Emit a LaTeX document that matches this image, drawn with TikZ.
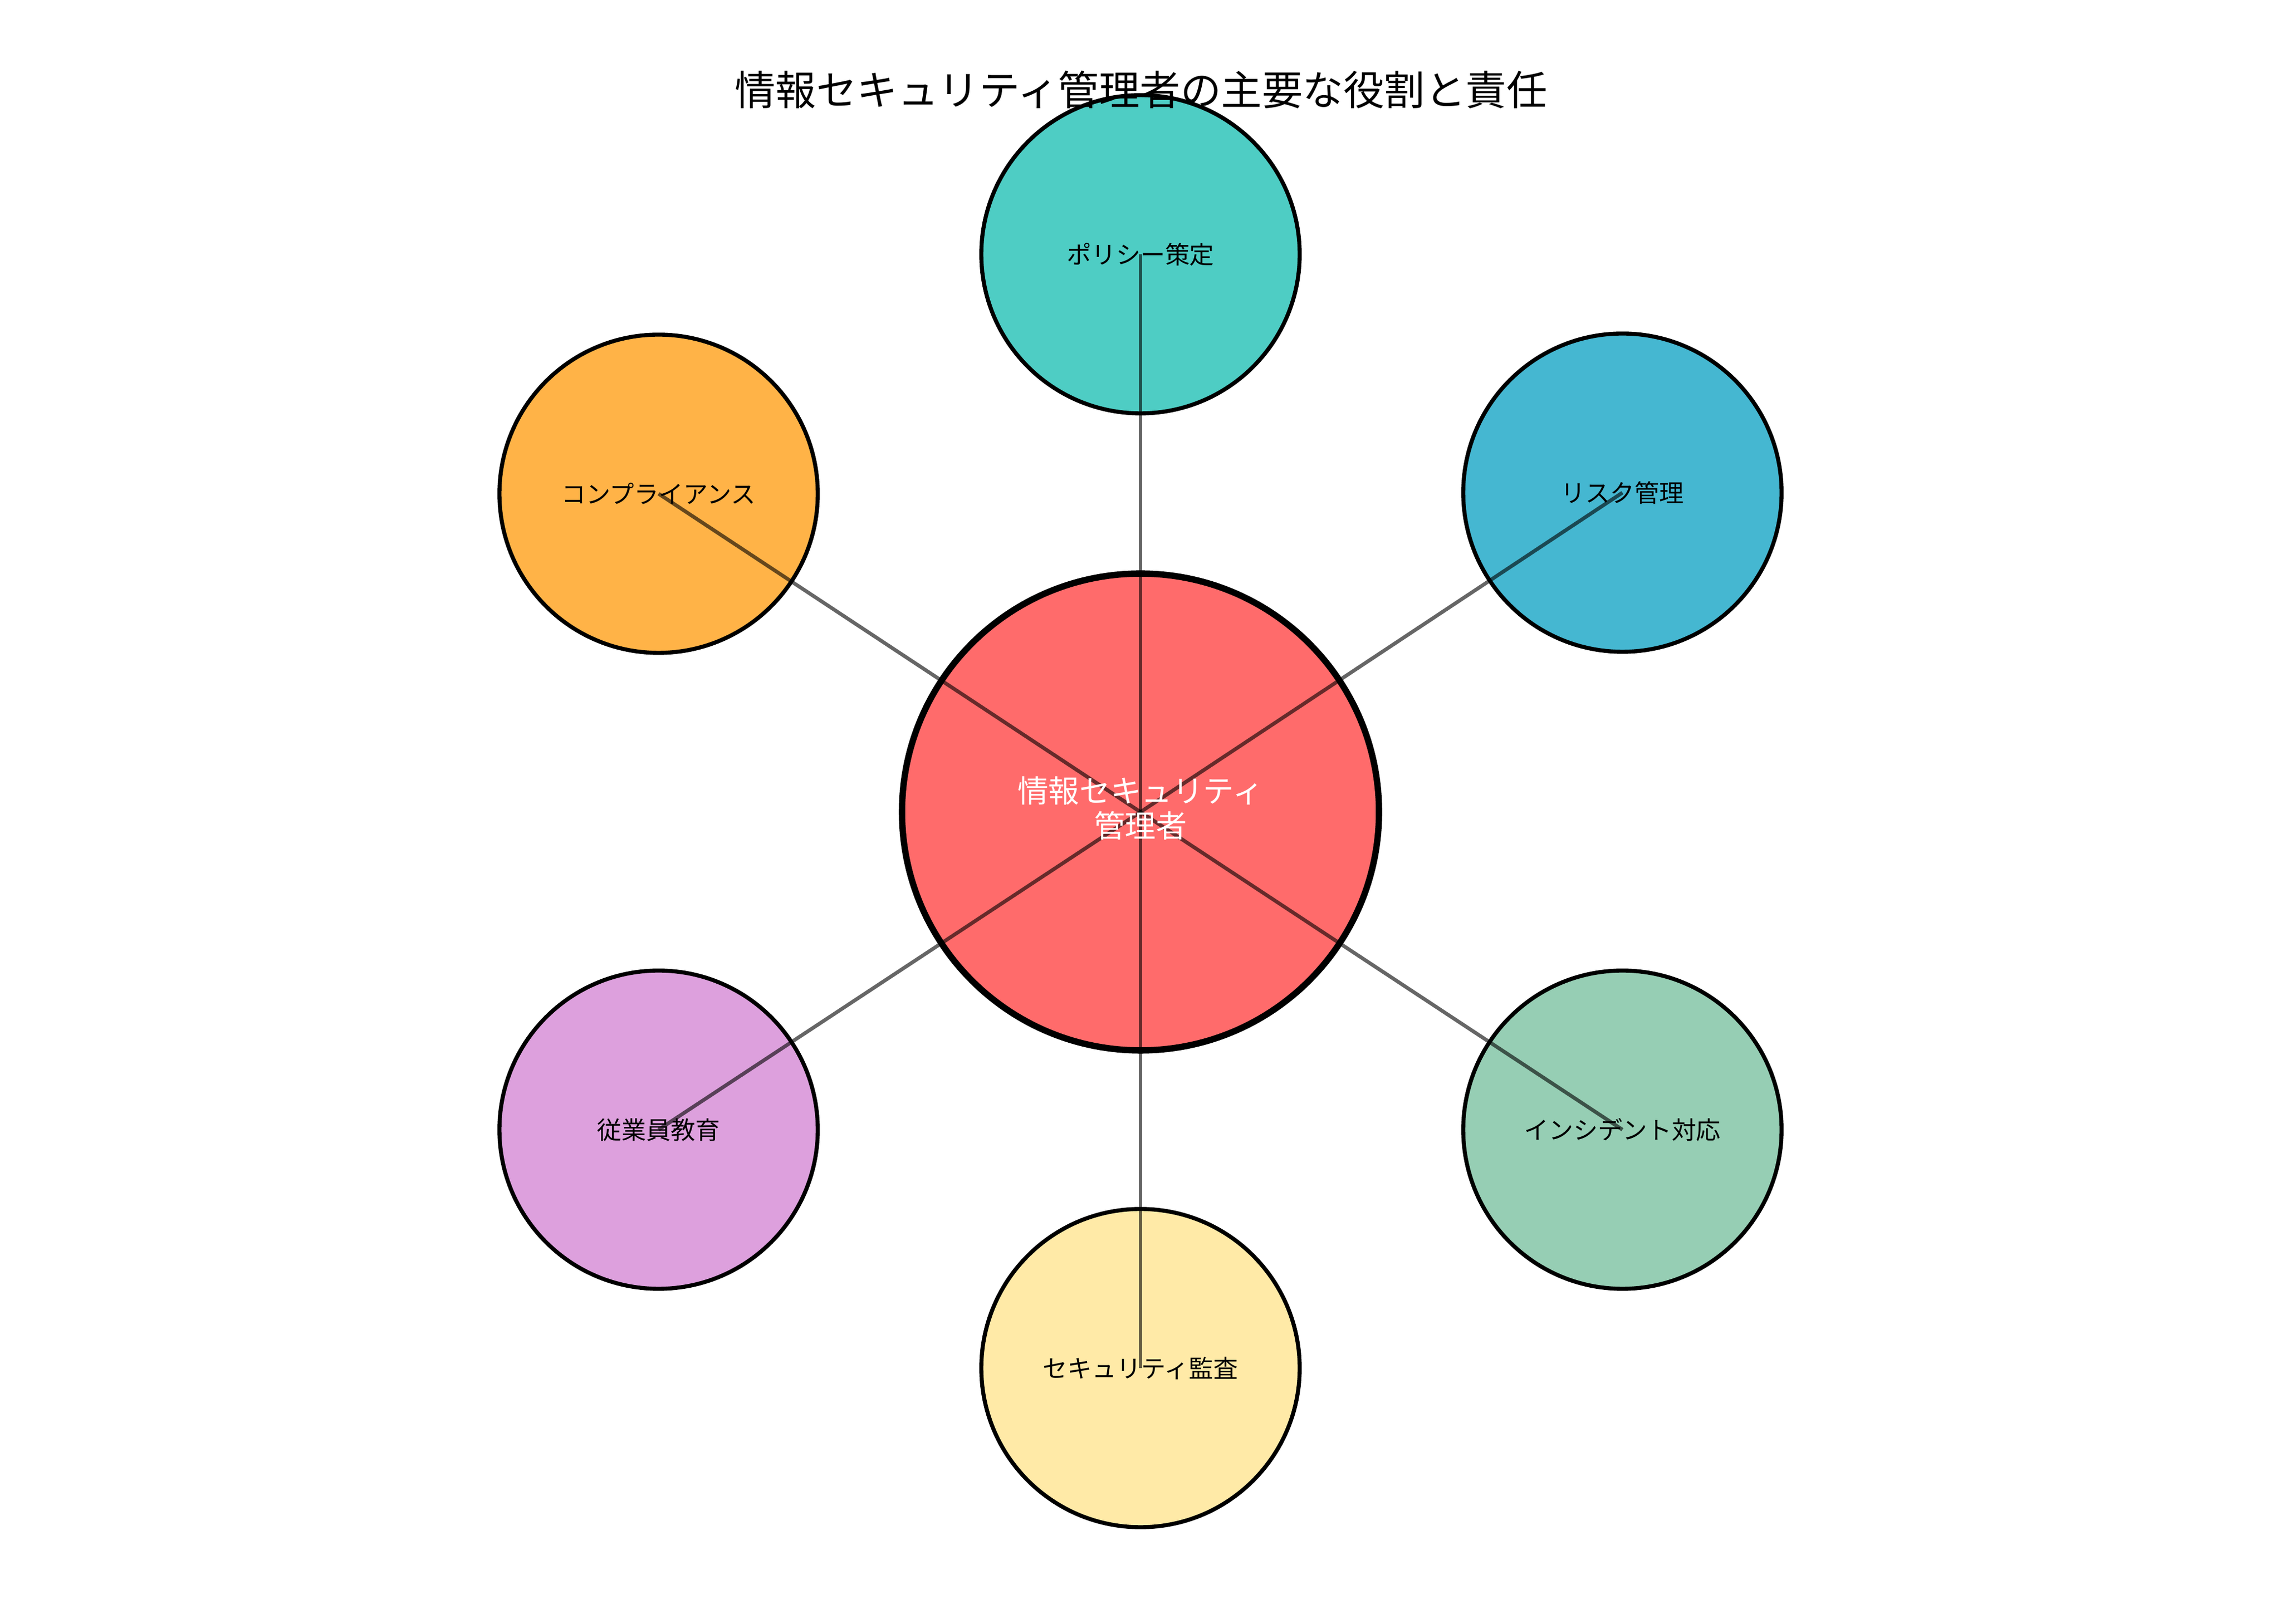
\documentclass[tikz,border=0pt]{standalone}
\usepackage{fontspec}
\setmainfont{Noto Sans CJK JP}
\usepackage{tikz}

\definecolor{mgrred}{HTML}{FF6B6B}
\definecolor{polteal}{HTML}{4ECDC4}
\definecolor{riskblue}{HTML}{45B7D1}
\definecolor{incgreen}{HTML}{96CEB4}
\definecolor{audyellow}{HTML}{FFEAA7}
\definecolor{eduplum}{HTML}{DDA0DD}
\definecolor{comporange}{HTML}{FFB347}

\begin{document}
\begin{tikzpicture}[
    role/.style={circle,draw=black,line width=2.1pt,minimum size=5.82cm,inner sep=0pt},
    link/.style={black,opacity=0.6,line width=1.9pt},
    rolelabel/.style={font=\fontsize{12.8}{15}\selectfont,text=black}
    ]
    
    \useasboundingbox (0,0) rectangle (41.7,29.7);
    
    % circles
    \node[circle,draw=black,line width=3.3pt,minimum size=8.72cm,inner sep=0pt,fill=mgrred] (mgr) at (20.85,14.85) {};
    \node[role,fill=polteal] (pol) at (20.85,25.05) {};
    \node[role,fill=riskblue] (risk) at (29.66,20.69) {};
    \node[role,fill=incgreen] (inc) at (29.66,9.04) {};
    \node[role,fill=audyellow] (aud) at (20.85,4.68) {};
    \node[role,fill=eduplum] (edu) at (12.04,9.04) {};
    \node[role,fill=comporange] (comp) at (12.04,20.67) {};
    
    \foreach \r in {pol,risk,inc,aud,edu,comp} {
        \draw[link] (mgr.center) to (\r.center);
    }
    
    % labels
    \node[align=center,text=white,font=\fontsize{16.1}{18.2}\selectfont] (mgr-t) at ([yshift=0.07cm]mgr.center) {情報セキュリティ\\管理者};
    \node[rolelabel] (pol-t) at (pol.center) {ポリシー策定};
    \node[rolelabel] (risk-t) at (risk.center) {リスク管理};
    \node[rolelabel] (inc-t) at (inc.center) {インシデント対応};
    \node[rolelabel] (aud-t) at (aud.center) {セキュリティ監査};
    \node[rolelabel] (edu-t) at (edu.center) {従業員教育};
    \node[rolelabel] (comp-t) at (comp.center) {コンプライアンス};
    
    \node[font=\fontsize{21.2}{25}\selectfont] (title) at (20.86,28.06) {情報セキュリティ管理者の主要な役割と責任};
    
\end{tikzpicture}
\end{document}
